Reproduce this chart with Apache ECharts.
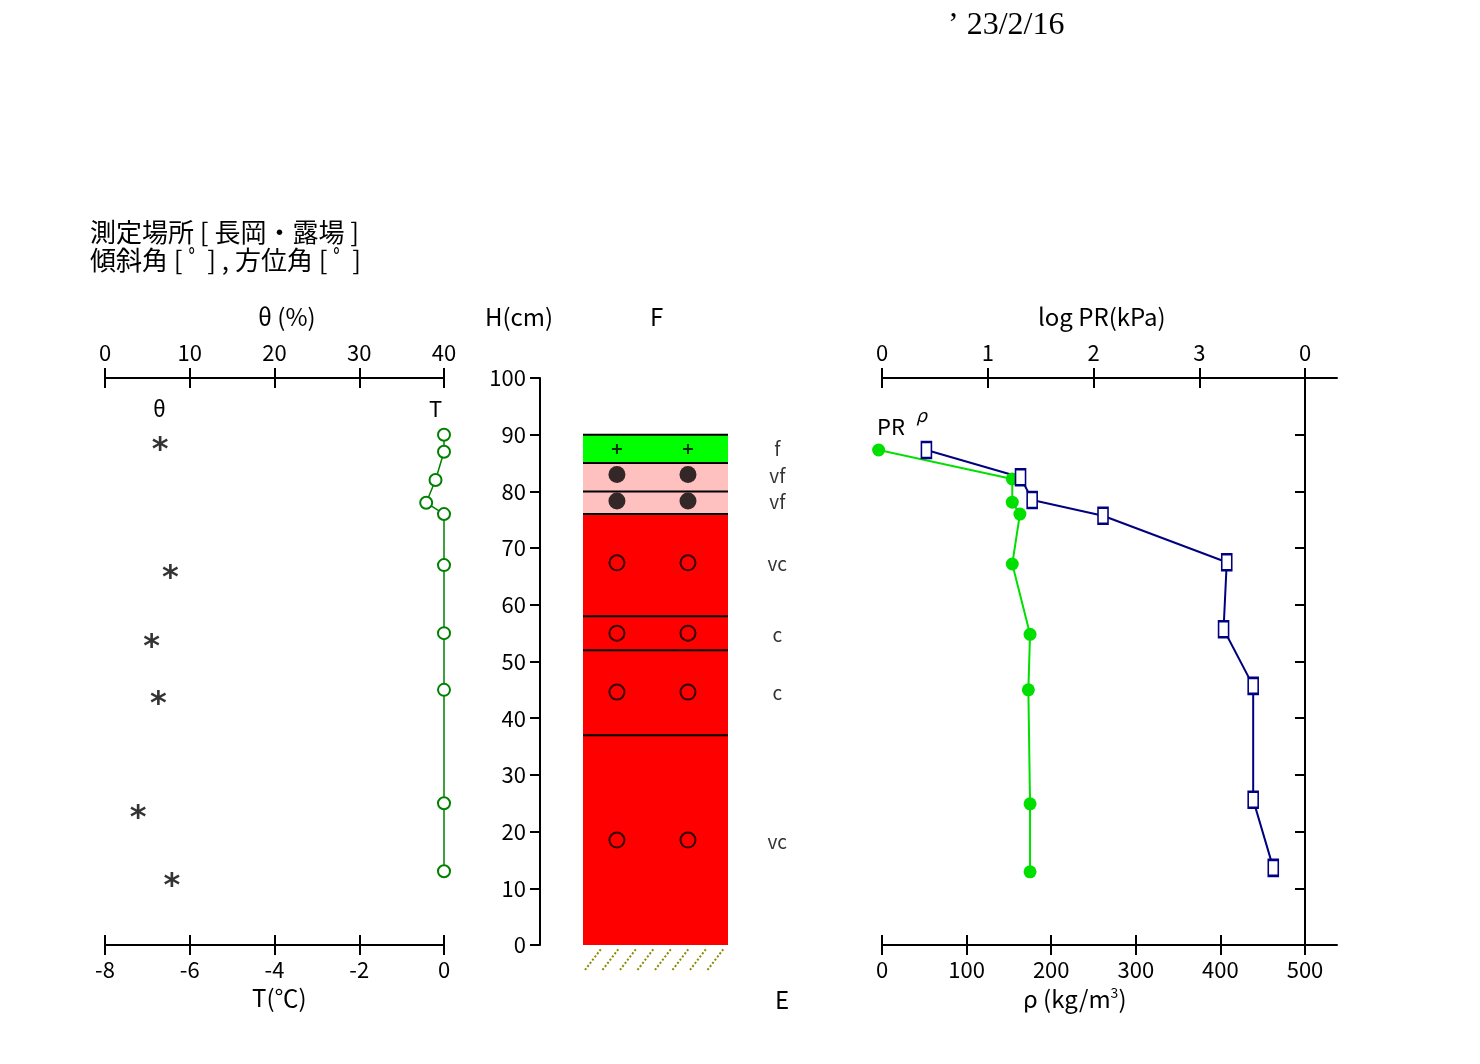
<!DOCTYPE html>
<html><head><meta charset="utf-8">
<script src="https://cdn.jsdelivr.net/npm/echarts@6/dist/echarts.min.js"></script>
<style>html,body{margin:0;background:#fff}#c{width:1480px;height:1064px}</style>
</head><body><div id="c"></div>
<script>
const thetaVals=[6.5,7.7,5.5,6.3,3.9,7.9];
const thetaH=[88.5,65.8,53.6,43.6,23.5,11.5];
const tempVals=[0,0,-0.2,-0.42,0,0,0,0,0,0];
const tempH=[90,87,82,78,76,67,55,45,25,13];
const layerBottom=[85,80,76,58,52,37,0];
const layerTop=[90,85,80,76,58,52,37];
const layerColor=['#00ff00','#ffc0c0','#ffc0c0','#ff0000','#ff0000','#ff0000','#ff0000'];
const grainH=[87.5,83,78.3,67.4,55,44.6,18.5];
const grainShape=['plus','filled','filled','hollow','hollow','hollow','hollow'];
const grainSizeLabels=['f','vf','vf','vc','c','c','vc'];
const grainLabelH=[87.6,82.8,78.1,67.2,54.8,44.4,18.2];
const rhoVals=[-4,154,154,163,154,175,173,175,175];
const rhoH=[87.3,82.2,78.1,76,67.2,54.8,45,24.9,12.9];
const prVals=[0.42,1.31,1.42,2.09,3.26,3.23,3.51,3.51,3.70];
const prH=[87.3,82.5,78.5,75.7,67.5,55.7,45.7,25.6,13.6];
const prTicks=[0,1,2,3,4];
const rhoTicks=[0,100,200,300,400,500];

const F='"Noto Sans CJK JP","Noto Sans",sans-serif';
const lbl={fontFamily:F,fontSize:22,color:'#000'};
const line={show:true,onZero:false,lineStyle:{color:'#000',width:2}};
const tickStyle={color:'#000',width:2};
const prMax=4*455/423, rhoMax=500*455/423;
function ax(grid,pos,min,max,interval,showLabel,inside,extra){
  return Object.assign({type:'value',gridIndex:grid,position:pos,min,max,interval,
    axisLine:line,splitLine:{show:false},
    axisTick:{show:true,inside,length:10,lineStyle:tickStyle},
    axisLabel:Object.assign({show:showLabel,margin:14},lbl)},extra||{});
}
const chart=echarts.init(document.getElementById('c'));
const plus=[],filled=[],hollow=[];
grainH.forEach((h,i)=>{const a=grainShape[i]==='plus'?plus:grainShape[i]==='filled'?filled:hollow;a.push([0.234,h]);a.push([0.724,h]);});
chart.setOption({
  animation:false,
  grid:[
    {left:105,top:378,width:339,height:567},
    {left:583,top:378,width:145,height:567},
    {left:882,top:378,width:455,height:567},
    {left:882,top:378,width:423,height:567}
  ],
  xAxis:[
    ax(0,'top',0,40,10,true,false),
    ax(0,'top',0,40,10,false,true),
    ax(0,'bottom',-8,0,2,true,false),
    ax(0,'bottom',-8,0,2,false,true),
    {type:'value',gridIndex:1,min:0,max:1,show:false},
    ax(2,'top',0,prMax,1,true,false,{axisLabel:Object.assign({margin:14,customValues:prTicks,formatter:v=>v===4?'0':String(v)},lbl),axisTick:{show:true,length:10,customValues:prTicks,lineStyle:tickStyle}}),
    ax(3,'top',0,4,1,false,true),
    ax(2,'bottom',0,rhoMax,100,true,false,{axisLabel:Object.assign({margin:14,customValues:rhoTicks},lbl),axisTick:{show:true,length:10,customValues:rhoTicks,lineStyle:tickStyle}}),
    ax(3,'bottom',0,500,100,false,true)
  ],
  yAxis:[
    {type:'value',gridIndex:0,min:0,max:100,show:false},
    ax(1,'left',0,100,10,true,false,{offset:43,axisLabel:Object.assign({margin:14},lbl)}),
    {type:'value',gridIndex:2,min:0,max:100,show:false},
    ax(3,'right',0,100,10,false,true)
  ],
  graphic:[
    {type:'text',left:948,top:10,style:{text:'\u2019 23/2/16',font:'32px "Liberation Serif","DejaVu Serif",serif',fill:'#000'}},
    {type:'text',left:90,top:218,style:{text:'測定場所 [ 長岡・露場 ]\n傾斜角 [ ﾟ ] , 方位角 [ ﾟ ]',font:'26px '+F,lineHeight:28,fill:'#000'}},
    {type:'text',left:258,top:305,style:{text:'θ (%)',font:'24px '+F,fill:'#000'}},
    {type:'text',left:153,top:398,style:{text:'θ',font:'22px '+F,fill:'#000'}},
    {type:'text',left:429,top:398,style:{text:'T',font:'22px '+F,fill:'#000'}},
    {type:'text',left:252,top:986,style:{text:'T(℃)',font:'24px '+F,fill:'#000'}},
    {type:'text',left:485,top:305,style:{text:'H(cm)',font:'24px '+F,fill:'#000'}},
    {type:'text',left:650,top:305,style:{text:'F',font:'24px '+F,fill:'#000'}},
    {type:'text',left:775,top:988,style:{text:'E',font:'24px '+F,fill:'#000'}},
    {type:'text',left:1038,top:305,style:{text:'log PR(kPa)',font:'24px '+F,fill:'#000'}},
    {type:'text',left:877,top:416,style:{text:'PR',font:'22px '+F,fill:'#000'}},
    {type:'text',left:916,top:406,style:{text:'ρ',font:'italic 18px '+F,fill:'#000'}},
    {type:'text',left:1023,top:986,style:{rich:{a:{font:'24px '+F},s:{font:'14px '+F,verticalAlign:'top',padding:[0,0,12,0]}},text:'{a|ρ (kg/m}{s|3}{a|)}',fill:'#000'}}
  ],
  series:[
    {type:'scatter',xAxisIndex:0,yAxisIndex:0,symbolSize:1,itemStyle:{color:'rgba(0,0,0,0)'},
     data:thetaVals.map((v,i)=>[v,thetaH[i]]),
     label:{show:true,position:'inside',formatter:'*',fontSize:32,fontWeight:'bold',fontFamily:'"DejaVu Sans"',color:'#000',offset:[0,7]}},
    {type:'line',xAxisIndex:2,yAxisIndex:0,data:tempVals.map((v,i)=>[v,tempH[i]]),
     symbol:'emptyCircle',symbolSize:12,lineStyle:{color:'#008000',width:1.5},itemStyle:{color:'#008000',borderWidth:1.5}},
    {type:'custom',xAxisIndex:4,yAxisIndex:1,data:layerBottom.map((b,i)=>[b,layerTop[i],i]),
     renderItem:(p,api)=>{const b=api.value(0),t=api.value(1),i=api.value(2);
       const p0=api.coord([0,t]),p1=api.coord([1,b]);
       return {type:'group',children:[
         {type:'rect',shape:{x:p0[0],y:p0[1],width:p1[0]-p0[0],height:p1[1]-p0[1]},style:{fill:layerColor[i]}},
         {type:'line',shape:{x1:p0[0],y1:p0[1],x2:p1[0],y2:p0[1]},style:{stroke:'#000',lineWidth:2}}]};}},
    {type:'custom',xAxisIndex:4,yAxisIndex:1,clip:false,data:[[0]],
     renderItem:(p,api)=>{const a=api.coord([0,0]),b=api.coord([1,-4.4]);const ch=[];
       for(let x=a[0]+2;x+16<=b[0]+1;x+=17.5){ch.push({type:'line',shape:{x1:x,y1:b[1],x2:x+16,y2:a[1]+4},style:{stroke:'#8a8a00',lineWidth:2,lineDash:[2,2]}});}
       return {type:'group',children:ch};}},
    {type:'scatter',xAxisIndex:4,yAxisIndex:1,data:plus,symbol:'path://M5 0V10M0 5H10',symbolSize:10,itemStyle:{color:'none',borderColor:'#000',borderWidth:2}},
    {type:'scatter',xAxisIndex:4,yAxisIndex:1,data:filled,symbol:'circle',symbolSize:17,itemStyle:{color:'#000'}},
    {type:'scatter',xAxisIndex:4,yAxisIndex:1,data:hollow,symbol:'circle',symbolSize:15,itemStyle:{color:'none',borderColor:'#000',borderWidth:2}},
    {type:'scatter',xAxisIndex:4,yAxisIndex:1,clip:false,symbolSize:1,itemStyle:{color:'rgba(0,0,0,0)'},
     data:grainSizeLabels.map((s,i)=>({value:[1.34,grainLabelH[i]],name:s})),
     label:{show:true,position:'inside',formatter:p=>p.name,fontSize:19,fontFamily:F,color:'#000'}},
    {type:'line',xAxisIndex:7,yAxisIndex:2,clip:false,data:rhoVals.map((v,i)=>[v,rhoH[i]]),
     symbol:'circle',symbolSize:13,lineStyle:{color:'#00e000',width:2},itemStyle:{color:'#00e000'}},
    {type:'line',xAxisIndex:5,yAxisIndex:2,data:prVals.map((v,i)=>[v,prH[i]]),
     symbol:'rect',symbolSize:[10,16],lineStyle:{color:'#000080',width:2},itemStyle:{color:'#fff',borderColor:'#000080',borderWidth:2}}
  ]
});
</script></body></html>
